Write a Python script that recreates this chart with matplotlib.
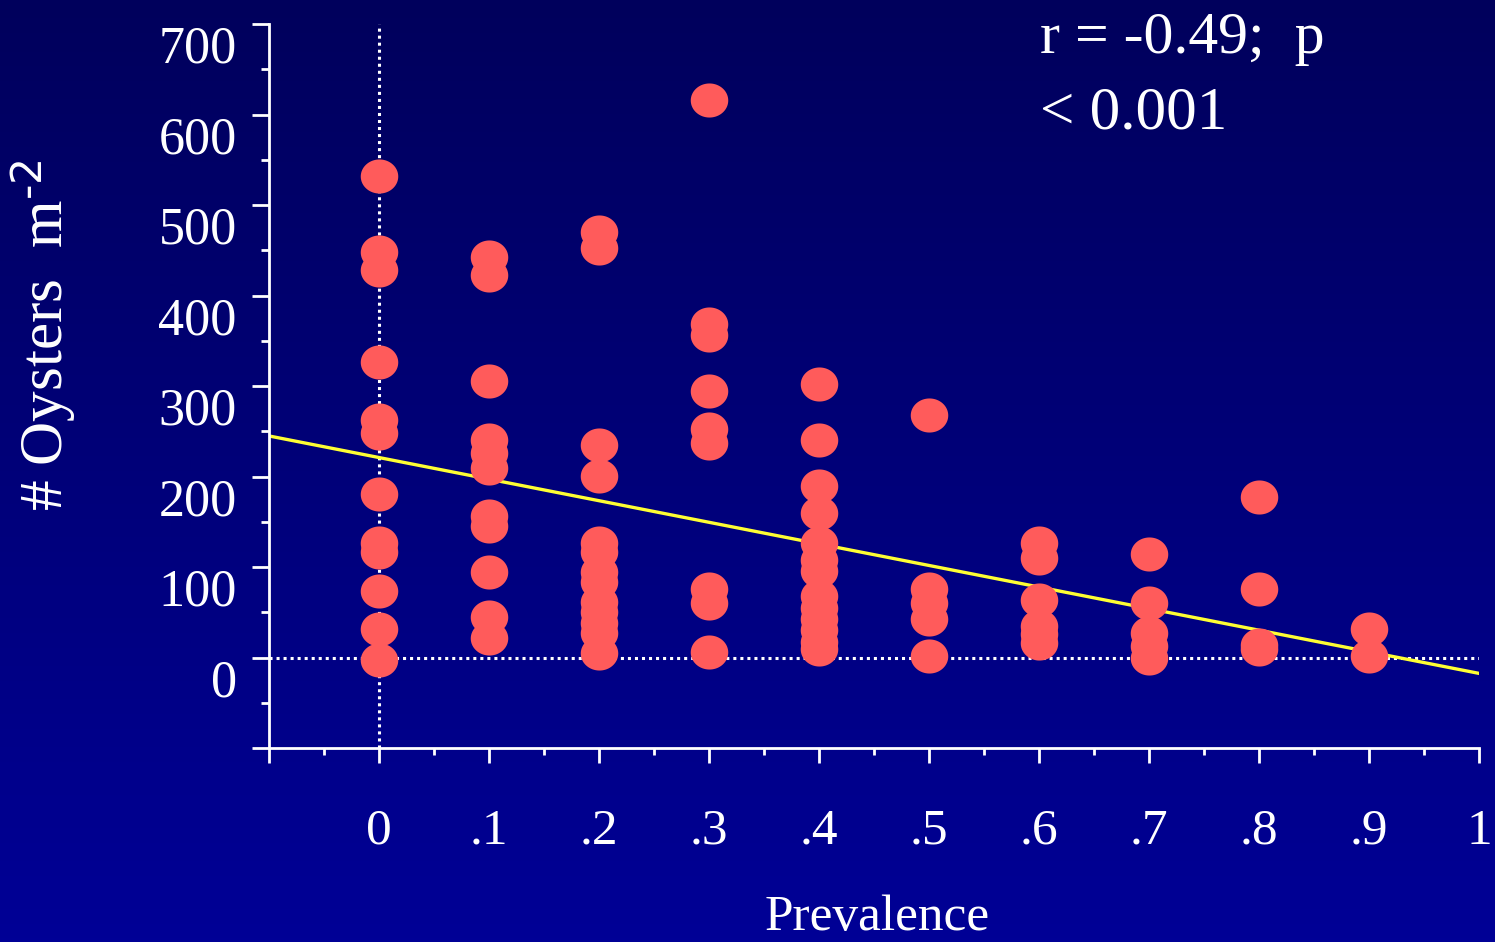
import numpy as np
import matplotlib
matplotlib.use("Agg")
import matplotlib.pyplot as plt
from matplotlib.transforms import ScaledTranslation

# ---------------- data ----------------
prevalence_levels = [0.0, 0.1, 0.2, 0.3, 0.4, 0.5, 0.6, 0.7, 0.8, 0.9]

oysters_p0 = [532, 448, 428, 327, 263, 248, 181, 127, 117, 74, 31, -3]
oysters_p1 = [443, 423, 306, 240, 226, 209, 156, 145, 94, 45, 22]
oysters_p2 = [470, 452, 235, 201, 127, 117, 95, 83, 61, 50, 38, 27, 5]
oysters_p3 = [616, 369, 356, 294, 252, 237, 76, 60, 6]
oysters_p4 = [302, 240, 190, 160, 127, 108, 96, 68, 55, 43, 30, 17, 9]
oysters_p5 = [268, 76, 60, 43, 2]
oysters_p6 = [127, 110, 64, 35, 26, 16]
oysters_p7 = [114, 60, 27, 13, 0]
oysters_p8 = [177, 76, 14, 9]
oysters_p9 = [31, 2]

oysters_by_level = [oysters_p0, oysters_p1, oysters_p2, oysters_p3, oysters_p4,
                    oysters_p5, oysters_p6, oysters_p7, oysters_p8, oysters_p9]

# regression line as drawn on the slide
fit_intercept = 221.0
fit_slope = -238.5

x_ticks = [-0.1, 0, 0.1, 0.2, 0.3, 0.4, 0.5, 0.6, 0.7, 0.8, 0.9, 1.0]
x_tick_labels = ["", "0", ".1", ".2", ".3", ".4", ".5", ".6", ".7", ".8", ".9", "1"]
y_ticks = [-100, 0, 100, 200, 300, 400, 500, 600, 700]
y_tick_labels = ["", "0", "100", "200", "300", "400", "500", "600", "700"]

# ---------------- style ----------------
plt.rcParams["font.family"] = ["Liberation Serif", "DejaVu Serif"]
plt.rcParams["mathtext.default"] = "regular"
white = "white"
dot_color = "#FF5B5B"

fig = plt.figure(figsize=(14.95, 9.42), dpi=100)

# dark-blue vertical gradient background
bg = fig.add_axes([0, 0, 1, 1], zorder=-10)
grad = np.linspace(0, 1, 256).reshape(-1, 1)
top_c = np.array([0, 0, 92]) / 255
bot_c = np.array([0, 0, 150]) / 255
img = top_c[None, None, :] * (1 - grad[:, :, None]) + bot_c[None, None, :] * grad[:, :, None]
bg.imshow(img, aspect="auto", extent=[0, 1, 0, 1])
bg.axis("off")

ax = fig.add_axes([0.1799, 0.2059, 0.8094, 0.7686])
ax.patch.set_alpha(0)

# reference lines at zero
ax.axvline(0, color=white, lw=2.2, ls=(0, (1, 1.3)), zorder=1)
ax.axhline(0, color=white, lw=2.2, ls=(0, (1, 1.3)), zorder=1)

# fitted line
xl = np.array([-0.1, 1.0])
ax.plot(xl, fit_intercept + fit_slope * xl, color="#FFFF33", lw=2.4, zorder=2)

# oval points
theta = np.linspace(0, 2 * np.pi, 72)
oval = np.column_stack([1.1 * np.cos(theta), np.sin(theta)])
for lvl, vals in zip(prevalence_levels, oysters_by_level):
    ax.scatter([lvl] * len(vals), vals, marker=oval, s=27 ** 2,
               color=dot_color, linewidths=0, zorder=3)

ax.set_xlim(-0.1, 1.0)
ax.set_ylim(-100, 700)

for side in ["top", "right"]:
    ax.spines[side].set_visible(False)
for side in ["left", "bottom"]:
    ax.spines[side].set_color(white)
    ax.spines[side].set_linewidth(2)

ax.set_xticks(x_ticks)
ax.set_xticklabels(x_tick_labels)
ax.set_xticks(np.arange(-0.05, 1.0, 0.1), minor=True)
ax.set_yticks(y_ticks)
ax.set_yticklabels(y_tick_labels)
ax.set_yticks(np.arange(-50, 700, 100), minor=True)

ax.tick_params(axis="x", which="major", length=10.5, width=2, color=white,
               labelcolor=white, labelsize=37, pad=33)
ax.tick_params(axis="x", which="minor", length=5, width=2, color=white)
ax.tick_params(axis="y", which="major", length=12.2, width=2, color=white,
               labelcolor=white, labelsize=37.5, pad=11)
ax.tick_params(axis="y", which="minor", length=6, width=2, color=white)

shift = ScaledTranslation(0, -0.20, fig.dpi_scale_trans)
for lab in ax.get_yticklabels():
    lab.set_transform(lab.get_transform() + shift)

# axis titles and annotation
fig.text(44 / 1495, 0.644, r"# Oysters  m$^{\text{-2}}$", rotation=90, color=white,
         fontsize=44, ha="center", va="center")
fig.text(877 / 1495, 0.001, "Prevalence", color=white, fontsize=37,
         ha="center", va="bottom")
fig.text(1040 / 1495, 0.9437, "r = -0.49;  p", color=white, fontsize=43,
         ha="left", va="baseline")
fig.text(1040 / 1495, 0.864, "< 0.001", color=white, fontsize=44,
         ha="left", va="baseline")

fig.savefig("out.png", dpi=100)
